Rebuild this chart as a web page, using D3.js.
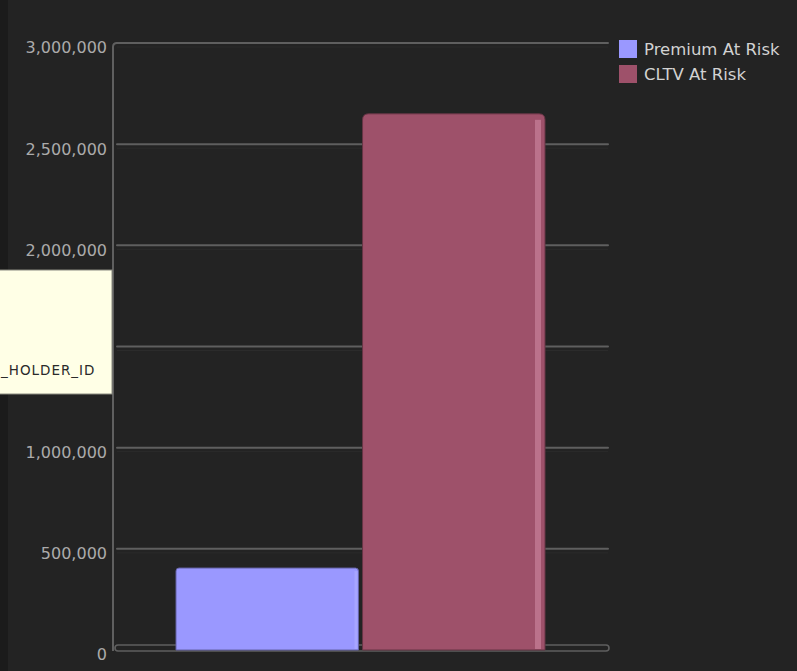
<!DOCTYPE html>
<html>
<head>
<meta charset="utf-8">
<script src="https://cdn.jsdelivr.net/npm/d3@7"></script>
<style>
  html, body { margin: 0; padding: 0; background: #222222; }
  svg { display: block; }
</style>
</head>
<body>
<script>
// Series and values
const series = ["Premium At Risk", "CLTV At Risk"];
const values = [405000, 2650000];
const colors = ["#9a98ff", "#9e516a"];
const highlights = ["#b4b2ff", "#c27b93"];
const yTicks = [0, 500000, 1000000, 1500000, 2000000, 2500000, 3000000];
// visible part of the hover tooltip's field name
const tooltipText = "_HOLDER_ID";

const W = 797, H = 671;
const svg = d3.select("body").append("svg").attr("width", W).attr("height", H);

// background with darker left strip
svg.append("rect").attr("width", W).attr("height", H).attr("fill", "#232323");
svg.append("rect").attr("width", 8).attr("height", H).attr("fill", "#1b1b1b");

const y = d3.scaleLinear().domain([0, 3000000]).range([650, 43]);
const x = d3.scaleBand().domain(series).range([176, 545]).paddingInner(0.022).paddingOuter(0);

const axisX = 113, gridRight = 608;
const fmt = d3.format(",");

// gridlines
const grid = svg.append("g");
yTicks.filter(t => t > 0).forEach(t => {
  grid.append("line")
    .attr("x1", axisX + 4).attr("x2", gridRight)
    .attr("y1", y(t)).attr("y2", y(t))
    .attr("stroke", "#5f5f5f").attr("stroke-width", 2)
    .attr("stroke-linecap", "round");
  grid.append("line")
    .attr("x1", axisX + 4).attr("x2", gridRight)
    .attr("y1", y(t) + 4).attr("y2", y(t) + 4)
    .attr("stroke", "#2b2b2b").attr("stroke-width", 1);
});

// floor at zero
svg.append("rect")
  .attr("x", axisX + 2).attr("y", y(0) - 5)
  .attr("width", gridRight - axisX - 1).attr("height", 6)
  .attr("rx", 3)
  .attr("fill", "none").attr("stroke", "#5f5f5f").attr("stroke-width", 1.6);

// vertical axis line with rounded top corner
svg.append("path")
  .attr("d", `M${axisX},${y(0) + 1} L${axisX},${y(3000000) + 4} Q${axisX},${y(3000000)} ${axisX + 4},${y(3000000)}`)
  .attr("fill", "none").attr("stroke", "#5f5f5f").attr("stroke-width", 2);

// tick labels
const yAxis = d3.axisLeft(y).tickValues(yTicks).tickFormat(fmt).tickSize(0).tickPadding(6);
const axisG = svg.append("g").attr("transform", `translate(${axisX},0)`).call(yAxis);
axisG.select(".domain").remove();
axisG.selectAll("text")
  .attr("fill", "#ababab")
  .attr("font-family", "DejaVu Sans, sans-serif")
  .attr("font-size", 16)
  .attr("dy", "0.62em");

// bars
const bars = svg.append("g");
series.forEach((s, i) => {
  const bx = x(s), bw = x.bandwidth();
  const top = y(values[i]), bot = y(0);
  const r = i === 1 ? 6 : 3;
  const path = `M${bx},${bot} L${bx},${top + r} Q${bx},${top} ${bx + r},${top} L${bx + bw - r},${top} Q${bx + bw},${top} ${bx + bw},${top + r} L${bx + bw},${bot} Z`;
  bars.append("path").attr("d", path)
    .attr("fill", colors[i])
    .attr("stroke", d3.color(colors[i]).darker(1.2)).attr("stroke-width", 1);
  // right-side highlight stripe
  bars.append("rect")
    .attr("x", bx + bw - (i === 1 ? 10 : 4)).attr("y", top + r)
    .attr("width", i === 1 ? 6 : 3).attr("height", bot - top - r - 1)
    .attr("fill", highlights[i]).attr("opacity", i === 1 ? 0.8 : 0.5);
});

// legend
const legend = svg.append("g");
series.forEach((s, i) => {
  const ly = 40 + i * 25;
  legend.append("rect").attr("x", 619).attr("y", ly).attr("width", 18).attr("height", 18)
    .attr("fill", colors[i]);
  legend.append("text").attr("x", 644).attr("y", ly + 15)
    .attr("fill", "#d2d2d2")
    .attr("font-family", "DejaVu Sans, sans-serif")
    .attr("font-size", 16.5)
    .text(s);
});

// tooltip box running off the left edge
const tip = svg.append("g");
tip.append("rect").attr("x", -10).attr("y", 270).attr("width", 122).attr("height", 124)
  .attr("fill", "#ffffe6").attr("stroke", "#8a8a80").attr("stroke-width", 1);
tip.append("text").attr("x", 1).attr("y", 375)
  .attr("fill", "#2a2a2a")
  .attr("font-family", "DejaVu Sans, sans-serif")
  .attr("font-size", 13.5)
  .attr("letter-spacing", 1)
  .text(tooltipText);
</script>
</body>
</html>
